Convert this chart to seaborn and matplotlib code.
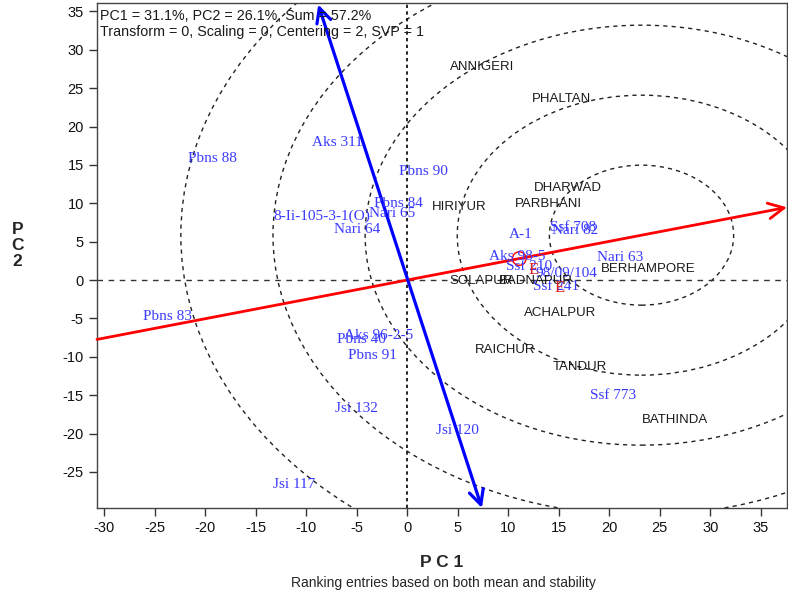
import matplotlib
matplotlib.use("Agg")
import matplotlib.pyplot as plt
import matplotlib.patches as mpatches
import numpy as np
import pandas as pd
import seaborn as sns

# Genotype labels (blue) and their positions on PC1 / PC2
genotypes = ["Pbns 88", "Aks 311", "Pbns 90", "Pbns 84", "Nari 65", "8-Ii-105-3-1(O)",
             "Nari 64", "A-1", "Aks 98-5", "Ssf 708", "Nari 82", "Nari 63", "Ssf 210",
             "98/09/104", "Ssf 241", "Ssf 773", "Jsi 120", "Jsi 132", "Jsi 117",
             "Pbns 83", "Pbns 40", "Aks 96-2-5", "Pbns 91"]
gen_pc1 = [-19.3, -6.9, 1.6, -0.9, -1.5, -8.4, -5.0, 11.2, 10.9, 16.4, 16.6, 21.1, 12.1,
           15.8, 14.7, 20.4, 5.0, -5.0, -11.2, -23.7, -4.5, -2.8, -3.4]
gen_pc2 = [15.9, 17.9, 14.1, 10.0, 8.7, 8.3, 6.6, 5.9, 3.1, 6.8, 6.4, 3.0, 1.8,
           0.9, -0.9, -15.1, -19.6, -16.7, -26.6, -4.7, -7.7, -7.2, -9.8]

# Environment labels (black)
envs = ["ANNIGERI", "PHALTAN", "DHARWAD", "PARBHANI", "HIRIYUR", "BERHAMPORE",
        "SOLAPUR", "BADNAPUR", "ACHALPUR", "RAICHUR", "TANDUR", "BATHINDA"]
env_pc1 = [7.4, 15.3, 15.9, 14.0, 5.2, 23.9, 7.3, 12.7, 15.1, 9.7, 17.1, 26.5]
env_pc2 = [27.8, 23.6, 12.0, 9.9, 9.5, 1.5, -0.1, -0.1, -4.3, -9.1, -11.3, -18.2]

# red E marks overlapping the Ssf labels
e_pc1 = [12.5, 15.1]
e_pc2 = [1.3, -1.0]

# average environment, axis and concentric rings around the ideal entry
avg_env = (11.1, 2.8)
aea_slope = 0.252
ideal = (23.2, 5.85)
ring_step = 9.12
n_rings = 5
stab_top = (-8.8, 35.9)
stab_bottom = (7.4, -29.7)

xlim = (-30.7, 37.6)
ylim = (-29.7, 36.1)

sns.set_theme(style="white")
plt.rcParams['font.family'] = ['Liberation Sans', 'DejaVu Sans']
plt.rcParams['axes.unicode_minus'] = False

fig = plt.figure(figsize=(7.88, 5.97), dpi=100)
ax = fig.add_axes([97 / 788, 89 / 597, 690 / 788, 505 / 597])

gen = pd.DataFrame({"g": genotypes, "x": gen_pc1, "y": gen_pc2})
env = pd.DataFrame({"e": envs, "x": env_pc1, "y": env_pc2})

# reference lines through origin
ax.axhline(0, color="#333333", lw=1, ls=(0, (4, 4)))
ax.axvline(0, color="black", lw=1.2, ls=(0, (2, 2)))

# concentric rings
for k in range(1, n_rings + 1):
    ax.add_patch(mpatches.Circle(ideal, ring_step * k, fill=False, ec="#222222",
                                 lw=1, ls=(0, (3, 3)), zorder=1))

# average environment axis and its perpendicular
x0, x1 = xlim
ax.annotate("", xy=(x1, aea_slope * x1), xytext=(x0, aea_slope * x0),
            arrowprops=dict(arrowstyle="->", color="red", lw=2, mutation_scale=28,
                            shrinkA=0, shrinkB=0), zorder=3)
ax.annotate("", xy=stab_top, xytext=stab_bottom,
            arrowprops=dict(arrowstyle="<->", color="blue", lw=2.3, mutation_scale=26,
                            shrinkA=0, shrinkB=0), zorder=3)

sns.scatterplot(x=[avg_env[0]], y=[avg_env[1]], ax=ax, s=95, facecolor="none",
                edgecolor="red", linewidth=1, zorder=4)

for _, r in gen.iterrows():
    ax.text(r.x, r.y, r.g, color="#3a3aff", fontsize=11, ha="center", va="center",
            family=["Liberation Serif", "DejaVu Serif"], zorder=5)
for _, r in env.iterrows():
    ax.text(r.x, r.y, r.e, color="#1a1a1a", fontsize=9.5, ha="center", va="center", zorder=5)
for ex, ey in zip(e_pc1, e_pc2):
    ax.text(ex, ey, "E", color="#dd2020", fontsize=12, ha="center", va="center",
            family=["Liberation Serif", "DejaVu Serif"], zorder=5)

ax.text(0.005, 0.988, "PC1 = 31.1%, PC2 = 26.1%, Sum = 57.2%\nTransform = 0, Scaling = 0, Centering = 2, SVP = 1",
        transform=ax.transAxes, ha="left", va="top", fontsize=10.3, color="#1a1a1a",
        linespacing=1.2)

ax.set_xlim(xlim)
ax.set_ylim(ylim)
ax.set_xticks(np.arange(-30, 40, 5))
ax.set_yticks(np.arange(-25, 40, 5))
ax.tick_params(axis="both", which="both", direction="out", length=6, width=1,
               labelsize=10.5, left=True, bottom=True, color="#333333",
               labelcolor="#111111")
for s in ax.spines.values():
    s.set_color("#444444")
    s.set_linewidth(1)

ax.set_xlabel("P C 1", fontsize=12.5, fontweight="bold", labelpad=14)
ax.set_ylabel("P\nC\n2", fontsize=12.5, fontweight="bold", rotation=0,
              va="center", linespacing=1.05)
ax.yaxis.set_label_coords(-0.115, 0.52)
fig.text(443 / 788, 1 - 583 / 597, "Ranking entries based on both mean and stability",
         ha="center", va="center", fontsize=10)

fig.savefig("out.png", dpi=100)
